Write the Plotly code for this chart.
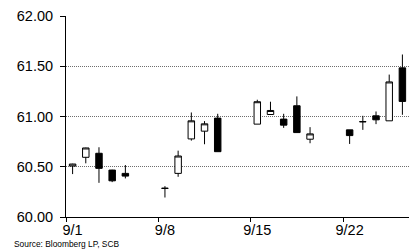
import plotly.graph_objects as go

dates = ["2014-09-01", "2014-09-02", "2014-09-03", "2014-09-04", "2014-09-05",
         "2014-09-08", "2014-09-09", "2014-09-10", "2014-09-11", "2014-09-12",
         "2014-09-15", "2014-09-16", "2014-09-17", "2014-09-18", "2014-09-19",
         "2014-09-22", "2014-09-23", "2014-09-24", "2014-09-25", "2014-09-26"]
open_ = [60.507, 60.594, 60.634, 60.467, 60.434,
         60.284, 60.434, 60.777, 60.854, 60.984,
         60.924, 61.020, 60.974, 61.107, 60.774,
         60.867, 60.947, 61.007, 60.957, 61.484]
high = [60.530, 60.690, 60.694, 60.470, 60.517,
        60.307, 60.660, 61.040, 60.954, 61.027,
        61.167, 61.147, 61.027, 61.200, 60.894,
        60.867, 61.007, 61.050, 61.417, 61.617]
low = [60.427, 60.534, 60.340, 60.347, 60.384,
       60.194, 60.400, 60.760, 60.724, 60.650,
       60.924, 61.020, 60.887, 60.840, 60.734,
       60.727, 60.867, 60.924, 60.957, 61.017]
close = [60.527, 60.687, 60.484, 60.360, 60.407,
         60.286, 60.607, 60.957, 60.927, 60.650,
         61.147, 61.060, 60.914, 60.840, 60.827,
         60.810, 60.949, 60.967, 61.344, 61.150]

label_dates = ["2014-09-01", "2014-09-08", "2014-09-15", "2014-09-22"]
label_text = ["9/1", "9/8", "9/15", "9/22"]
boundary_dates = ["2014-08-31 12:00", "2014-09-07 12:00", "2014-09-14 12:00", "2014-09-21 12:00"]
y_ticks = [60.0, 60.5, 61.0, 61.5, 62.0]
x_range = ["2014-08-31 12:00", "2014-09-26 12:00"]

FONT = "Arial, Liberation Sans, sans-serif"

fig = go.Figure()
fig.add_trace(go.Candlestick(
    x=dates, open=open_, high=high, low=low, close=close,
    increasing=dict(fillcolor="white", line=dict(color="black", width=1)),
    decreasing=dict(fillcolor="black", line=dict(color="black", width=1)),
    showlegend=False, hoverinfo="skip",
))

fig.update_layout(
    width=409, height=251,
    margin=dict(l=66, r=0, t=16, b=34),
    paper_bgcolor="white", plot_bgcolor="white",
    font=dict(family=FONT, color="black", size=14),
    showlegend=False,
    xaxis=dict(
        type="date", range=x_range,
        rangeslider=dict(visible=False),
        tickmode="array", tickvals=label_dates, ticktext=label_text,
        ticks="", showgrid=False, zeroline=False,
        showline=True, linecolor="black", linewidth=1,
        tickfont=dict(size=14.5, family=FONT),
        minor=dict(tickmode="array", tickvals=boundary_dates, ticks="outside",
                   ticklen=4, tickcolor="black", tickwidth=1, showgrid=False),
    ),
    xaxis2=dict(
        type="date", range=x_range, overlaying="x", side="bottom",
        showticklabels=False, tickmode="array", tickvals=label_dates, ticks="",
        showgrid=False, zeroline=False, showline=False,
        minor=dict(tickmode="array", tickvals=boundary_dates, ticks="inside",
                   ticklen=4, tickcolor="black", tickwidth=1, showgrid=False),
    ),
    yaxis=dict(
        range=[60.0, 62.0], tickmode="array", tickvals=y_ticks,
        tickformat=".2f", ticks="outside", ticklen=5, tickcolor="black",
        ticklabelstandoff=4,
        showline=True, linecolor="black", linewidth=1,
        showgrid=True, gridcolor="#6e6e6e", griddash="1px,1px", gridwidth=1,
        zeroline=False, tickfont=dict(size=14.5, family=FONT),
    ),
    annotations=[dict(
        text="Source: Bloomberg LP, SCB", xref="paper", yref="paper",
        x=-0.158, y=-0.1, xanchor="left", yanchor="top", showarrow=False,
        font=dict(size=8.4, family=FONT, color="black"),
    )],
)

fig.write_html(
    "out.html",
    config={"displayModeBar": False, "staticPlot": True},
    post_script="document.body.style.margin='0';document.body.style.overflow='hidden';",
)
